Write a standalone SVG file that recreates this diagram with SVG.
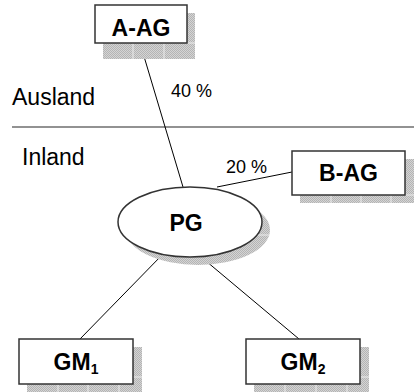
<svg xmlns="http://www.w3.org/2000/svg" width="414" height="392" viewBox="0 0 414 392">
  <defs>
    <!-- fine dither used for the drop shadows -->
    <pattern id="dither" width="2" height="2" patternUnits="userSpaceOnUse">
      <rect width="2" height="2" fill="#d4d4d4"/>
      <rect width="1" height="1" fill="#b4b4b4"/>
      <rect x="1" y="1" width="1" height="1" fill="#b4b4b4"/>
    </pattern>
  </defs>
  <style>
    .shadow { fill: url(#dither); stroke: none; }
    .grid { stroke: #ececec; stroke-width: 1; fill: none; }
    .box { fill: #ffffff; stroke: #333333; stroke-width: 1.5; }
    .lbl { font-family: "Liberation Sans", Arial, sans-serif; font-weight: bold; font-size: 23px; fill: #000; text-anchor: middle; }
    .sub { font-size: 14px; }
    .region { font-family: "Liberation Sans", Arial, sans-serif; font-size: 23px; fill: #000; }
    .pct { font-family: "Liberation Sans", Arial, sans-serif; font-size: 18px; fill: #000; }
    .conn { stroke: #000; stroke-width: 1; fill: none; }
  </style>

  <!-- border between Ausland and Inland -->
  <g id="border">
    <line x1="12" y1="127" x2="414" y2="127" stroke="#6e6e6e" stroke-width="1.5"/>
    <text class="region" x="12" y="105">Ausland</text>
    <text class="region" x="22" y="165">Inland</text>
  </g>

  <!-- connectors -->
  <g id="connectors">
    <line class="conn" x1="140" y1="43" x2="183" y2="187"/>
    <line class="conn" x1="217" y1="187" x2="292" y2="172"/>
    <line class="conn" x1="163" y1="254" x2="80" y2="339"/>
    <line class="conn" x1="200" y1="256" x2="299" y2="339"/>
    <text class="pct" x="171" y="97">40 %</text>
    <text class="pct" x="226" y="173">20 %</text>
  </g>

  <g id="node-a-ag">
    <rect class="shadow" x="103" y="13" width="92" height="46"/>
    <path class="grid" d="M133 43V59M164 43V59M187 43H195"/>
    <rect class="box" x="95" y="5" width="92" height="38"/>
    <text class="lbl" x="141" y="36">A-AG</text>
  </g>

  <g id="node-b-ag">
    <rect class="shadow" x="300" y="159" width="114" height="44"/>
    <path class="grid" d="M331 195V203M361 195V203M391 195V203M405 195H414"/>
    <rect class="box" x="292" y="151" width="113" height="44"/>
    <text class="lbl" x="348.500" y="181">B-AG</text>
  </g>

  <g id="node-pg">
    <ellipse class="shadow" cx="198" cy="230" rx="72" ry="35"/>
    <path class="grid" d="M255 235H270"/>
    <ellipse class="box" cx="190" cy="222" rx="72" ry="35"/>
    <text class="lbl" x="186" y="231">PG</text>
  </g>

  <g id="node-gm1">
    <rect class="shadow" x="27" y="347" width="115" height="45"/>
    <path class="grid" d="M58 384V392M88 384V392M119 384V392M133 377H142"/>
    <rect class="box" x="19" y="339" width="114" height="45"/>
    <text class="lbl" x="76" y="370">GM<tspan class="sub" dy="4">1</tspan></text>
  </g>

  <g id="node-gm2">
    <rect class="shadow" x="254" y="347" width="115" height="45"/>
    <path class="grid" d="M285 384V392M316 384V392M347 384V392M360 377H369"/>
    <rect class="box" x="246" y="339" width="114" height="45"/>
    <text class="lbl" x="303" y="370">GM<tspan class="sub" dy="4">2</tspan></text>
  </g>
</svg>
